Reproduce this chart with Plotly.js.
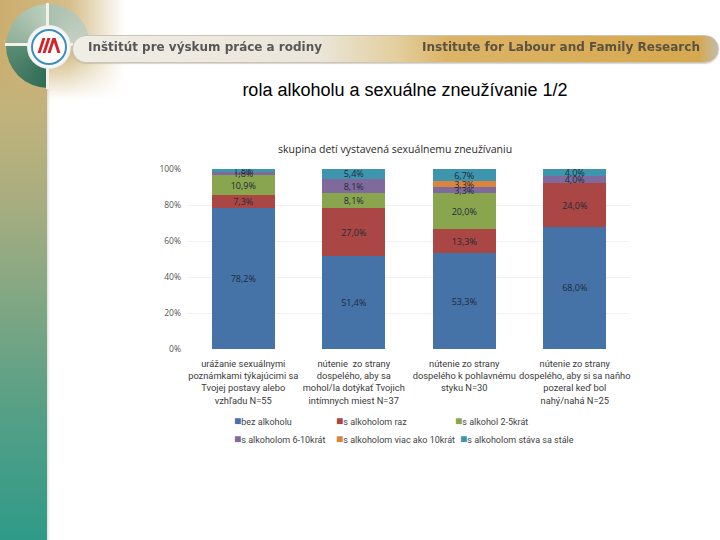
<!DOCTYPE html>
<html><head><meta charset="utf-8">
<script src="https://cdn.plot.ly/plotly-3.0.1.min.js"></script>
<style>
html,body{margin:0;padding:0;width:720px;height:540px;overflow:hidden;background:#fff;font-family:"Liberation Sans",Arial,sans-serif;}
.abs{position:absolute;}
#sidebar{left:0;top:0;width:47px;height:540px;background:linear-gradient(to bottom,#cbae70 0%,#c3b37b 20%,#a7ad80 38%,#82a783 55%,#57a086 75%,#2f9a88 100%);}
#sidebar:after{content:"";position:absolute;right:-3px;top:60px;width:3px;height:480px;background:linear-gradient(to right,rgba(200,200,190,0.6),rgba(255,255,255,0));}
#topfade{left:0;top:0;width:125px;height:100px;background:linear-gradient(to right,rgba(203,174,112,1) 0%,rgba(210,186,130,0.95) 55%,rgba(255,255,255,0) 100%);-webkit-mask-image:linear-gradient(to bottom,#000 55%,transparent 100%);}
#ring{left:6px;top:4px;width:84px;height:84px;border-radius:50%;background:conic-gradient(#a9bfae 0deg,#c7d3c6 90deg,transparent 90deg,transparent 180deg,#2f6b55 180deg,#5a8c74 270deg,#8eae98 270deg,#bcd0bf 360deg);}
.crossv{left:46px;top:3px;width:3px;height:86px;background:#f4f1ea;}
.crossh{left:5px;top:43px;width:86px;height:3px;background:#f4f1ea;}
#band{left:72px;top:35px;width:645px;height:26px;border-radius:14px;border:1px solid #c9c4b6;background:linear-gradient(to right,#f0ede6 0%,#ebe6da 38%,#e3cf9f 50%,#dcb467 58%,#d9ad58 80%,#d6a84f 97%,#c2bca8 100%);box-shadow:0 1px 1px rgba(160,150,120,0.4);}
#inner{left:27px;top:25px;width:44px;height:44px;border-radius:50%;background:radial-gradient(circle,#ffffff 55%,#e6e8e6 75%,#c9cfcb 100%);}
#blue{left:31px;top:29px;width:32px;height:32px;border-radius:50%;border:2px solid #3c8dc2;background:#fff;}
.rb{top:38px;width:3px;height:15px;background:#d4232a;transform:skewX(-18deg);}
#t1{left:88px;top:39px;font-family:"DejaVu Sans Condensed","DejaVu Sans",sans-serif;font-weight:bold;font-size:13px;color:#575757;white-space:nowrap;transform-origin:0 0;}
#t2{left:422px;top:39px;font-family:"DejaVu Sans Condensed","DejaVu Sans",sans-serif;font-weight:bold;font-size:13px;color:#5d5240;white-space:nowrap;transform-origin:0 0;}
#stitle{left:0;top:80px;width:810px;text-align:center;font-size:18px;color:#000;font-family:"Liberation Sans",Arial,sans-serif;}
#chart{left:0;top:0;width:720px;height:540px;}
</style></head>
<body>
<div id="sidebar" class="abs"></div>
<div id="topfade" class="abs"></div>
<div id="ring" class="abs"></div>
<div class="abs crossv"></div>
<div class="abs crossh"></div>
<div id="band" class="abs"></div>
<div id="inner" class="abs"></div>
<div id="blue" class="abs"></div>
<div class="abs rb" style="left:40px"></div>
<div class="abs rb" style="left:45px"></div>
<div class="abs rb" style="left:50px"></div>
<div class="abs rb" style="left:55px;transform:skewX(18deg)"></div>
<div id="t1" class="abs">Inštitút pre výskum práce a rodiny</div>
<div id="t2" class="abs">Institute for Labour and Family Research</div>
<div id="stitle" class="abs">rola alkoholu a sexuálne zneužívanie 1/2</div>
<div id="chart" class="abs"></div>
<script>
// ---- data ----
const categories = [
  "urážanie sexuálnymi<br>poznámkami týkajúcimi sa<br>Tvojej postavy alebo<br>vzhľadu N=55",
  "nútenie  zo strany<br>dospelého, aby sa<br>mohol/la dotýkať Tvojich<br>intímnych miest N=37",
  "nútenie zo strany<br>dospelého k pohlavnému<br>styku N=30",
  "nútenie zo strany<br>dospelého, aby si sa naňho<br>pozeral keď bol<br>nahý/nahá N=25"
];
const seriesNames = ["bez alkoholu","s alkoholom raz","s alkohol 2-5krát","s alkoholom 6-10krát","s alkoholom viac ako 10krát","s alkoholom stáva sa stále"];
const bezAlkoholu   = [78.2, 51.4, 53.3, 68.0];
const sAlkoholomRaz = [7.3, 27.0, 13.3, 24.0];
const sAlkohol2_5   = [10.9, 8.1, 20.0, 0];
const sAlkohol6_10  = [1.8, 8.1, 3.3, 4.0];
const sAlkoholViac10= [0, 0, 3.3, 0];
const sAlkoholStale = [1.8, 5.4, 6.7, 4.0];
const seriesValues = [bezAlkoholu, sAlkoholomRaz, sAlkohol2_5, sAlkohol6_10, sAlkoholViac10, sAlkoholStale];
const colors = ["#4572A7","#AA4643","#89A54E","#80699B","#DB843D","#3D96AE"];
const yTicks = [0,20,40,60,80,100];
const strongGridTicks = [80,100];

// fit header texts
function fit(id,w){const e=document.getElementById(id);const r=e.getBoundingClientRect().width;e.style.transform="scaleX("+(w/r)+")";}
fit("t1",234); fit("t2",278);

const traces = seriesValues.map((vals,i)=>({
  type:"bar",
  name:seriesNames[i],
  x:categories,
  y:vals,
  marker:{color:colors[i],line:{width:0}},
  text:vals.map(v=>v>0?v.toFixed(1).replace(".",",")+"%":""),
  textposition:"inside",
  insidetextanchor:"middle",
  constraintext:"none",
  textfont:{family:"Open Sans, sans-serif",size:9,color:"#1e2a3a"},
  hoverinfo:"skip",
  showlegend:false
}));

// legend drawn as text entries (coloured square glyph + series name), two rows of three like the original
const legendX = [0.0995, 0.330, 0.5995, 0.0995, 0.330, 0.611];
const legendY = [-0.4, -0.4, -0.4, -0.5, -0.5, -0.5];
const legendAnn = seriesNames.map((n,i)=>({
  text:'<span style="color:'+colors[i]+';font-size:12px">■</span>'+n,
  xref:"paper",yref:"paper",x:legendX[i],y:legendY[i],xanchor:"left",yanchor:"middle",showarrow:false,
  font:{family:"Roboto, sans-serif",size:9,color:"#444"}
}));

const layout = {
  width:720,height:540,
  margin:{l:188,r:90,t:169,b:191,pad:0},
  paper_bgcolor:"rgba(0,0,0,0)",plot_bgcolor:"rgba(0,0,0,0)",
  barmode:"stack",bargap:0.43,
  showlegend:false,
  uniformtext:{minsize:9,mode:"show"},
  font:{family:"Open Sans, sans-serif",color:"#444"},
  xaxis:{type:"category",tickangle:0,tickfont:{family:"Roboto, sans-serif",size:9.3,color:"#3a3a3a"},ticks:"",ticklabelstandoff:8,showgrid:false,zeroline:false,showline:false,fixedrange:true},
  yaxis:{range:[0,100],tickvals:yTicks,ticktext:yTicks.map(t=>t+"%"),tickfont:{size:8.5,color:"#555"},
    showgrid:true,gridcolor:"#f1f1f1",gridwidth:1,zeroline:false,showline:false,ticks:"",ticklabelstandoff:6,fixedrange:true},
  yaxis2:{overlaying:"y",anchor:"x",side:"left",range:[0,100],tickvals:strongGridTicks,showticklabels:false,
    showgrid:true,gridcolor:"#c6c6c6",gridwidth:1,zeroline:false,showline:false,ticks:"",fixedrange:true},
  annotations:[{text:"skupina detí vystavená sexuálnemu zneužívaniu",xref:"paper",yref:"paper",x:0.468,y:1.111,
    xanchor:"center",yanchor:"middle",showarrow:false,font:{family:"Open Sans, sans-serif",size:10.5,color:"#2a2a2a"}}].concat(legendAnn)
};
Plotly.newPlot("chart",traces,layout,{staticPlot:true,displayModeBar:false});
</script>
</body></html>
